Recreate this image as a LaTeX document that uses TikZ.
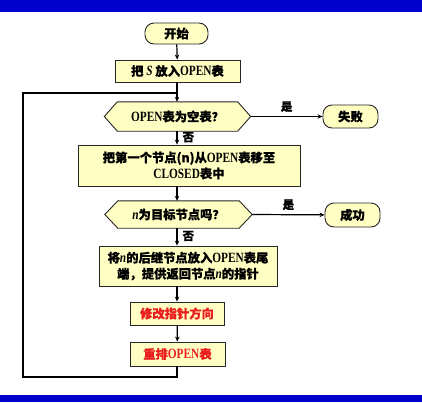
\documentclass[tikz,border=0pt]{standalone}
\usepackage{fontspec}
\setmainfont{Noto Sans CJK SC}[FakeBold=0.6]
\newfontfamily\latfont[FakeStretch=0.8,Scale=1.15]{Liberation Serif}
\newcommand\lt[1]{{\latfont\bfseries #1}}
\newcommand\itl[1]{{\latfont\bfseries\itshape #1}}
\usetikzlibrary{arrows.meta,calc,backgrounds}
\definecolor{barblue}{RGB}{0,0,204}
\definecolor{boxfill}{RGB}{255,255,196}
\definecolor{redtxt}{RGB}{235,30,30}
\begin{document}
\begin{tikzpicture}[x=1pt,y=-1pt,
  box/.style={draw=black!85, fill=boxfill, line width=0.9pt, inner sep=0pt, align=center,
    font=\fontsize{12.3}{16}\selectfont\bfseries},
  term/.style={box, rounded corners=9pt},
  hexcore/.style={inner sep=0pt, align=center, font=\fontsize{12.3}{16}\selectfont\bfseries},
  hexdraw/.style={draw=black!85, fill=boxfill, line width=0.9pt},
  conn/.style={line width=1.2pt, -{Stealth[length=5pt,width=4.5pt]}},
  loopline/.style={line width=1.6pt},
  lbl/.style={font=\fontsize{11.5}{13}\selectfont\bfseries, inner sep=0pt}]
\useasboundingbox (0,0) rectangle (422,402);
\fill[barblue] (0,0) rectangle (422,12);
\fill[barblue] (0,395) rectangle (422,402);

\node[term, minimum width=63pt, minimum height=21pt] (start) at (176.5,33.5) {开始};
\node[box, minimum width=125pt, minimum height=22pt] (put) at (177.5,71) {把 \itl{S} 放入\lt{OPEN}表};

\node[hexcore, minimum width=120pt, minimum height=29pt] (d1) at (177.5,116.5) {\lt{OPEN}表为空表？};
\coordinate (d1r) at ($(d1.east)+(13,0)$);
\coordinate (d1l) at ($(d1.west)+(-13,0)$);
\begin{pgfonlayer}{background}
\draw[hexdraw] (d1l) -- (d1.north west) -- (d1.north east) -- (d1r) -- (d1.south east) -- (d1.south west) -- cycle;
\end{pgfonlayer}
\node[term, minimum width=55pt, minimum height=23pt] (fail) at (350.5,116.5) {失败};

\node[box, minimum width=222pt, minimum height=41pt] (move) at (189,165.5) {把第一个节点(n)从\lt{OPEN}表移至\\\lt{CLOSED}表中};

\node[hexcore, minimum width=121pt, minimum height=27pt] (d2) at (178.5,214.5) {\itl{n}为目标节点吗？};
\coordinate (d2r) at ($(d2.east)+(13,0)$);
\coordinate (d2l) at ($(d2.west)+(-13,0)$);
\begin{pgfonlayer}{background}
\draw[hexdraw] (d2l) -- (d2.north west) -- (d2.north east) -- (d2r) -- (d2.south east) -- (d2.south west) -- cycle;
\end{pgfonlayer}
\node[term, minimum width=55pt, minimum height=24pt] (succ) at (352.5,215) {成功};

\node[box, minimum width=178pt, minimum height=40pt] (expand) at (188,266) {将\itl{n}的后继节点放入\lt{OPEN}表尾\\端，提供返回节点\itl{n}的指针};
\node[box, minimum width=94pt, minimum height=23pt, text=redtxt] (modify) at (177,313.5) {修改指针方向};
\node[box, minimum width=95pt, minimum height=24pt, text=redtxt] (resort) at (177.5,354) {重排\lt{OPEN}表};

\coordinate (j) at (177,93);
\coordinate (lb) at (23,377);

\draw[conn] (start) -- (put);
\draw[conn] (put.south -| j) -- (d1.north -| j);
\draw[conn] (d1r) -- node[lbl, above=4pt] {是} (fail);
\draw[conn] (d1.south -| j) -- node[lbl, right=5pt, pos=0.45] {否} (move.north -| j);
\draw[conn] (move.south -| j) -- (d2.north -| j);
\draw[conn] (d2r) -- node[lbl, above=4pt] {是} (succ);
\draw[conn] (d2.south -| j) -- node[lbl, right=5pt, pos=0.45] {否} (expand.north -| j);
\draw[conn] (expand.south -| j) -- (modify);
\draw[conn] (modify) -- (resort);
\draw[loopline] (resort.south -| j) -- (j |- lb) -- (lb) -- (lb |- j) -- (j);
\end{tikzpicture}
\end{document}
